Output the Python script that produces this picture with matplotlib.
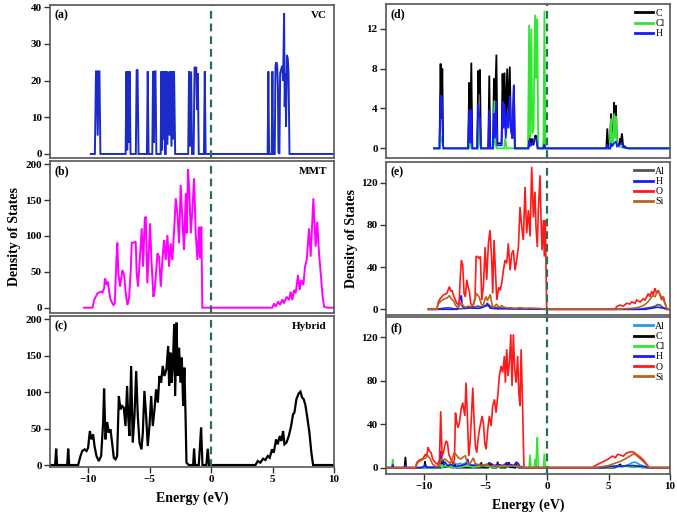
import matplotlib
matplotlib.use('Agg')
import matplotlib.pyplot as plt
import numpy as np

plt.rcParams['font.family'] = ['Liberation Serif', 'DejaVu Serif']
plt.rcParams['font.weight'] = 'bold'

# ---------------- data (energy in eV, DOS) ----------------
vc_dos = [(-9.78, 0), (-9.45, 0), (-9.36, 22.5), (-9.3, 22.5), (-9.22, 5), (-9.14, 22.5), (-9.08, 22.5), (-9.0, 0),
          (-6.95, 0), (-6.88, 22.5), (-6.82, 1), (-6.76, 22.5), (-6.7, 3), (-6.62, 22.5), (-6.55, 0),
          (-6.12, 0), (-6.05, 23), (-5.98, 22.8), (-5.9, 0),
          (-5.22, 0), (-5.15, 22.5), (-5.08, 0),
          (-4.78, 0), (-4.72, 22.5), (-4.65, 3), (-4.58, 22.5), (-4.52, 22.5), (-4.45, 0),
          (-4.1, 0), (-4.04, 22.5), (-3.98, 1), (-3.92, 22.5), (-3.85, 4), (-3.8, 22.5), (-3.74, 0),
          (-3.68, 0), (-3.63, 22.5), (-3.55, 2.5), (-3.47, 22.5), (-3.38, 5), (-3.3, 22.5), (-3.22, 2),
          (-3.14, 22.5), (-3.07, 4), (-3.01, 22.5), (-2.92, 0),
          (-1.86, 0), (-1.79, 22.5), (-1.72, 2), (-1.62, 22.5), (-1.55, 0),
          (-1.42, 0), (-1.34, 23.7), (-1.26, 23.5), (-1.2, 23.5), (-1.14, 12), (-1.08, 22), (-1.0, 0),
          (-0.58, 0), (-0.51, 22.5), (-0.44, 0),
          (4.6, 0), (4.66, 22.5), (4.72, 0), (4.93, 0), (4.99, 22.5), (5.05, 0),
          (5.18, 0), (5.24, 24), (5.32, 25), (5.38, 24), (5.44, 18), (5.48, 0.5), (5.56, 0),
          (5.62, 22), (5.7, 23), (5.78, 24), (5.86, 20), (5.94, 38.3), (5.99, 12.8), (6.04, 22),
          (6.1, 7.4), (6.17, 27), (6.24, 26), (6.3, 22), (6.38, 0), (10, 0)]

mmt_dos = [(-10.33, 0), (-9.65, 0), (-9.51, 10.7), (-9.24, 20), (-8.97, 22.3), (-8.84, 21), (-8.70, 27),
           (-8.62, 41), (-8.48, 31.6), (-8.38, 36.3), (-8.29, 22.3), (-8.16, 10.7), (-7.94, 3.7), (-7.83, 6),
           (-7.70, 66.5), (-7.62, 90.7), (-7.54, 47.9), (-7.40, 29.3), (-7.21, 52.6), (-7.07, 45.6),
           (-6.94, 20), (-6.80, 3.7), (-6.67, 13), (-6.53, 52.6), (-6.45, 90.7), (-6.26, 90.7), (-6.13, 92.1),
           (-6.05, 47.9), (-5.94, 29.3), (-5.80, 66.5), (-5.64, 110.7), (-5.53, 57.2), (-5.39, 124.7),
           (-5.31, 127), (-5.18, 34), (-4.96, 117.7), (-4.85, 66.5), (-4.69, 15.3), (-4.58, 24.7),
           (-4.36, 75.8), (-4.23, 71.2), (-4.09, 29.3), (-3.96, 66.5), (-3.82, 94.4), (-3.69, 66.5),
           (-3.55, 101.4), (-3.42, 57.2), (-3.28, 89.8), (-3.15, 66.5), (-3.01, 106), (-2.87, 152.6),
           (-2.74, 131.6), (-2.60, 89.8), (-2.47, 171.2), (-2.33, 122.3), (-2.20, 80.5), (-2.06, 159.5),
           (-1.98, 103.7), (-1.87, 193), (-1.76, 159.5), (-1.65, 103.7), (-1.52, 136.3), (-1.38, 180.5),
           (-1.25, 103.7), (-1.11, 66.5), (-0.98, 113), (-0.90, 68.8), (-0.79, 113), (-0.71, 0),
           (4.99, 0), (5.12, 6), (5.26, 1.4), (5.45, 8.4), (5.61, 3.7), (5.80, 11.6), (5.93, 6),
           (6.15, 15.3), (6.34, 10.7), (6.48, 22.3), (6.61, 10.7), (6.75, 24.7), (6.88, 20), (7.07, 45.6),
           (7.21, 24.7), (7.34, 38.6), (7.51, 31.6), (7.64, 57.2), (7.78, 66.5), (7.97, 110.7), (8.10, 71.2),
           (8.24, 122.3), (8.32, 152.6), (8.43, 113), (8.51, 85.1), (8.64, 120), (8.78, 75.8), (8.91, 50.2),
           (9.05, 20), (9.19, 1.4), (9.46, 0), (10, 0)]

hybrid_dos = [(-13.3, 0), (-12.68, 0), (-12.60, 22.4), (-12.52, 0), (-11.70, 0), (-11.62, 22.4), (-11.54, 0),
              (-10.81, 0), (-10.62, 12.4), (-10.48, 19.2), (-10.29, 21.5), (-10.13, 19.2), (-10.0, 23.8),
              (-9.86, 46.7), (-9.73, 35.2), (-9.59, 42.1), (-9.48, 26.1), (-9.32, 12.4), (-9.13, 5.5),
              (-8.94, 12.4), (-8.78, 58.1), (-8.70, 104.8), (-8.59, 35.2), (-8.45, 59), (-8.32, 44.4),
              (-8.18, 49), (-8.05, 30.7), (-7.91, 10), (-7.77, 7.8), (-7.64, 12.4), (-7.50, 94.7),
              (-7.37, 76.4), (-7.23, 81), (-7.10, 78.7), (-6.96, 53.5), (-6.83, 108.5), (-6.74, 67.3),
              (-6.64, 39.8), (-6.50, 135.9), (-6.37, 30.7), (-6.23, 67.3), (-6.09, 129), (-5.96, 67.3),
              (-5.82, 30.7), (-5.66, 21.5), (-5.55, 44.4), (-5.42, 101.6), (-5.28, 67.3), (-5.15, 26.1),
              (-5.01, 53.5), (-4.87, 94.7), (-4.74, 53.5), (-4.60, 76.4), (-4.47, 103.9), (-4.33, 85.6),
              (-4.20, 122.2), (-4.06, 113), (-3.93, 135.9), (-3.79, 122.2), (-3.63, 131.4), (-3.49, 163.4),
              (-3.41, 108.5), (-3.30, 154.2), (-3.22, 113), (-3.11, 135.9), (-3.00, 193), (-2.92, 94.7),
              (-2.81, 195.4), (-2.71, 122.2), (-2.60, 161), (-2.49, 113), (-2.38, 147.4), (-2.27, 81),
              (-2.17, 133.6), (-2.08, 71.9), (-2.00, 3.2), (-1.81, 0), (-1.46, 0), (-1.38, 22.4),
              (-1.30, 0), (-1.0, 0), (-0.92, 21.5), (-0.81, 51.3), (-0.70, 0), (-0.38, 0), (-0.27, 22.4),
              (-0.16, 0), (3.61, 0), (3.80, 5.5), (4.01, 3.2), (4.23, 8.7), (4.42, 6.9), (4.61, 12.4),
              (4.77, 10), (4.96, 21.5), (5.10, 16.9), (5.29, 35.2), (5.42, 28.4), (5.59, 39.8), (5.72, 32.9),
              (5.86, 46.7), (5.97, 28.4), (6.13, 30.7), (6.32, 39.8), (6.51, 53.5), (6.67, 69.6), (6.78, 71.9),
              (6.94, 90.2), (7.13, 98.4), (7.27, 100.7), (7.40, 92.9), (7.54, 90.2), (7.67, 82.4),
              (7.81, 67.3), (8.00, 44.4), (8.16, 16.9), (8.30, 0), (10, 0)]

d_C = [(-9.2, 0), (-8.75, 0), (-8.66, 8.5), (-8.6, 3), (-8.52, 8.0), (-8.45, 0),
       (-6.42, 0), (-6.33, 6.6), (-6.26, 1), (-6.16, 8.6), (-6.08, 0),
       (-5.68, 0), (-5.6, 7.8), (-5.53, 5.5), (-5.46, 7.9), (-5.38, 0),
       (-4.78, 0), (-4.7, 7.3), (-4.62, 0),
       (-4.4, 0), (-4.32, 7.0), (-4.24, 4), (-4.12, 9.4), (-4.04, 0.5),
       (-3.7, 0.5), (-3.62, 7.5), (-3.55, 4), (-3.46, 7.6), (-3.36, 2), (-3.24, 8.0), (-3.14, 3),
       (-3.03, 8.2), (-2.94, 2), (-2.82, 1), (-2.7, 6.3), (-2.62, 0),
       (-1.52, 0), (-1.44, 1.3), (-1.36, 0.3), (-1.24, 1.0), (-1.12, 0.3), (-0.96, 1.3), (-0.86, 1.2), (-0.76, 0),
       (-0.3, 0), (-0.22, 2.0), (-0.15, 0),
       (4.82, 0), (4.9, 2.0), (4.98, 0), (5.12, 0), (5.2, 3.5), (5.28, 0.5), (5.38, 1), (5.45, 4.6),
       (5.52, 2), (5.6, 4.3), (5.68, 0.5), (5.85, 0.2), (5.93, 1.0), (6.0, 0.5), (6.09, 1.5), (6.18, 0.3),
       (6.4, 0.1), (6.6, 0), (10, 0)]
d_Cl = [(-9.2, 0), (-8.75, 0), (-8.64, 1.2), (-8.5, 0.5), (-8.45, 0),
        (-6.3, 0), (-6.2, 0.8), (-6.1, 0),
        (-5.6, 0), (-5.52, 2.5), (-5.45, 0.5), (-5.38, 0),
        (-4.36, 0), (-4.28, 4.8), (-4.2, 0.5), (-4.1, 0),
        (-3.5, 0), (-3.4, 1.0), (-3.3, 0),
        (-1.55, 0), (-1.46, 12.4), (-1.38, 1.0), (-1.28, 12.0), (-1.2, 1.5), (-1.1, 2), (-0.98, 13.4),
        (-0.9, 7), (-0.8, 13.0), (-0.72, 0),
        (-0.3, 0), (-0.21, 13.8), (-0.14, 0),
        (5.1, 0), (5.2, 3.0), (5.28, 0.3), (5.38, 1), (5.47, 3.5), (5.55, 1), (5.62, 3.2), (5.7, 0.2),
        (6.6, 0), (10, 0)]
d_H = [(-9.2, 0), (-8.75, 0), (-8.66, 5.3), (-8.56, 5.2), (-8.47, 0.3), (-8.4, 0),
       (-6.42, 0), (-6.33, 3.9), (-6.24, 0.5), (-6.16, 3.9), (-6.08, 0),
       (-5.68, 0), (-5.6, 4.4), (-5.53, 3.5), (-5.46, 3.0), (-5.38, 0),
       (-4.78, 0), (-4.7, 3.9), (-4.62, 0),
       (-4.4, 0), (-4.32, 3.5), (-4.24, 1), (-4.14, 4.7), (-4.04, 0.3),
       (-3.7, 0.3), (-3.62, 4.7), (-3.55, 2), (-3.46, 4.5), (-3.36, 1), (-3.24, 3.6), (-3.14, 2),
       (-3.03, 5.3), (-2.94, 2), (-2.82, 1), (-2.7, 6.4), (-2.62, 0),
       (-1.52, 0), (-1.44, 0.8), (-1.36, 0.2), (-1.2, 0.5), (-0.98, 1.0), (-0.9, 1.0), (-0.76, 0),
       (-0.3, 0), (-0.22, 0.4), (-0.15, 0),
       (4.82, 0), (4.9, 0.4), (4.98, 0), (5.15, 0), (5.2, 0.5), (5.3, 0.2), (5.45, 0.5), (5.6, 0.7),
       (5.7, 0.2), (6.09, 0.5), (6.2, 0.1), (6.6, 0), (10, 0)]

e_Al = [(-9.65, 0), (-8.9, 0), (-8.5, 1), (-8.0, 1.5), (-7.5, 0.5), (-7.0, 0.5), (-6.5, 1), (-6.0, 2),
        (-5.6, 3), (-5.3, 2), (-5.0, 3), (-4.7, 4), (-4.5, 2), (-4.0, 1.5), (-3.5, 1), (-3.0, 0.5),
        (-2.0, 0.5), (-0.05, 0), (7.5, 0), (8.0, 1), (8.5, 2), (8.8, 3), (9.0, 4.5), (9.2, 4),
        (9.4, 2), (9.7, 0), (10, 0)]
e_H = [(-9.65, 0), (-7.3, 0), (-7.15, 5), (-7.05, 12), (-6.97, 13), (-6.9, 3), (-6.7, 1), (-6.3, 1.5),
       (-6.0, 1), (-5.5, 1), (-5.2, 2), (-4.95, 4), (-4.85, 6), (-4.75, 3), (-4.6, 1), (-4.0, 0.5),
       (-3.0, 0.5), (-1.0, 0.3), (-0.05, 0), (8.0, 0), (8.5, 1), (9.0, 2), (9.5, 1), (9.8, 0), (10, 0)]
e_O = [(-9.65, 0), (-8.97, 0), (-8.84, 7), (-8.70, 10), (-8.43, 13.6), (-8.16, 15), (-7.94, 21.5),
       (-7.83, 17), (-7.73, 18), (-7.62, 13.6), (-7.35, 5.7), (-7.16, 4), (-7.07, 28), (-6.97, 46.7),
       (-6.86, 42), (-6.75, 15), (-6.64, 12), (-6.53, 28), (-6.42, 21), (-6.32, 17), (-6.21, 5.7),
       (-6.05, 2.5), (-5.86, 10.5), (-5.77, 50), (-5.64, 50), (-5.53, 48), (-5.42, 50), (-5.31, 8.8),
       (-5.18, 21), (-5.04, 59), (-4.91, 28), (-4.77, 62.5), (-4.64, 75), (-4.50, 46.7), (-4.42, 15),
       (-4.31, 65.7), (-4.20, 37), (-4.09, 8.8), (-3.93, 21), (-3.82, 18), (-3.69, 24.5), (-3.55, 37),
       (-3.42, 46.7), (-3.28, 43.5), (-3.15, 62.5), (-3.01, 37), (-2.87, 53), (-2.74, 56), (-2.60, 37),
       (-2.47, 46.7), (-2.33, 59), (-2.20, 97), (-2.06, 78), (-1.93, 65.7), (-1.79, 116), (-1.66, 72),
       (-1.52, 94), (-1.38, 69), (-1.25, 135), (-1.11, 87), (-0.98, 111.5), (-0.90, 78), (-0.79, 59),
       (-0.71, 94), (-0.57, 127), (-0.49, 84.6), (-0.41, 56), (-0.30, 84.6), (-0.22, 50), (-0.14, 84.6),
       (-0.08, 40), (-0.03, 0),
       (5.53, 0), (5.66, 2.5), (5.93, 4), (6.20, 3), (6.47, 5.7), (6.75, 5), (6.88, 7), (7.15, 5.7),
       (7.29, 8.8), (7.56, 7), (7.83, 10), (7.97, 8.8), (8.24, 15), (8.37, 12), (8.51, 17), (8.64, 13.6),
       (8.78, 20), (8.91, 15), (9.05, 18), (9.19, 13.6), (9.32, 8.8), (9.46, 12), (9.59, 5.7), (9.73, 1),
       (9.8, 0), (10, 0)]
e_Si = [(-9.65, 0), (-8.97, 0), (-8.85, 5), (-8.7, 7), (-8.5, 9), (-8.3, 10), (-8.1, 11), (-7.94, 13),
        (-7.8, 10), (-7.6, 8), (-7.45, 4), (-7.3, 2), (-7.15, 3), (-7.0, 6), (-6.9, 5), (-6.8, 3),
        (-6.6, 2), (-6.4, 3), (-6.2, 2.5), (-6.0, 4), (-5.85, 10), (-5.75, 15), (-5.6, 13), (-5.5, 11),
        (-5.35, 5), (-5.2, 3), (-5.05, 10), (-4.95, 12), (-4.85, 8), (-4.7, 12), (-4.62, 14), (-4.5, 6),
        (-4.4, 2), (-4.3, 2.5), (-4.1, 5), (-4.0, 3), (-3.85, 2), (-3.7, 3.5), (-3.5, 2), (-3.3, 1.5),
        (-3.0, 1.5), (-2.6, 1), (-2.2, 1.5), (-1.8, 1), (-1.4, 1.2), (-1.0, 1), (-0.6, 0.8), (-0.2, 0.4),
        (0, 0), (5.7, 0), (6.3, 0.5), (7.0, 1), (7.5, 2), (7.9, 4), (8.2, 7), (8.4, 10), (8.6, 13),
        (8.78, 12), (8.9, 15), (9.05, 18), (9.2, 13), (9.35, 12), (9.5, 8), (9.65, 4), (9.75, 0), (10, 0)]

f_Al = [(-13.1, 0), (-8.5, 0), (-8.2, 1), (-7.8, 2), (-7.55, 4.5), (-7.3, 3), (-7.1, 4), (-6.9, 3),
        (-6.6, 4.5), (-6.3, 2), (-6.0, 2.5), (-5.6, 1.5), (-5.0, 1), (-4.0, 0.5), (-2.0, 0.3), (-1.88, 0),
        (5.0, 0), (5.5, 0.5), (6.0, 1), (6.5, 2), (6.9, 4.5), (7.1, 5.2), (7.3, 4.5), (7.6, 2.5),
        (8.0, 1), (8.3, 0), (10, 0)]
f_C = [(-13.1, 0), (-11.6, 0), (-11.52, 10), (-11.45, 0), (-10.0, 0), (-9.93, 6), (-9.86, 0),
       (-8.7, 0), (-8.62, 8), (-8.55, 3), (-8.45, 7), (-8.35, 1), (-7.6, 0), (-7.5, 3), (-7.4, 0),
       (-5.42, 0), (-5.35, 5), (-5.28, 0), (-4.78, 0), (-4.7, 5), (-4.62, 0.5), (-4.55, 4), (-4.48, 0),
       (-4.1, 0), (-4.02, 5.5), (-3.95, 0.5), (-3.88, 3), (-3.8, 0), (-3.38, 0), (-3.3, 5), (-3.22, 1),
       (-3.1, 5), (-3.02, 0.5), (-2.58, 0), (-2.5, 4), (-2.42, 1), (-2.3, 0), (-0.3, 0), (-0.22, 2),
       (-0.15, 0), (5.5, 0), (5.8, 2), (5.95, 3), (6.1, 1), (6.5, 2), (6.8, 1), (7.5, 0.5), (8.3, 0), (10, 0)]
f_Cl = [(-13.1, 0), (-12.62, 0), (-12.55, 8), (-12.48, 0), (-8.75, 0), (-8.62, 3), (-8.5, 1), (-8.3, 2),
        (-8.1, 0.5), (-7.0, 0.5), (-6.5, 1.5), (-6.0, 0.5), (-5.0, 1.5), (-4.5, 0.5), (-3.5, 1), (-2.8, 2),
        (-2.4, 1), (-1.95, 0), (-1.46, 0), (-1.38, 12), (-1.3, 0), (-1.05, 0), (-0.98, 8), (-0.9, 1),
        (-0.84, 20), (-0.79, 28), (-0.72, 0), (-0.3, 0), (-0.22, 13), (-0.15, 0), (5.0, 0), (5.5, 1),
        (6.0, 1.5), (6.5, 1), (7.0, 0.8), (8.0, 0), (10, 0)]
f_H = [(-13.1, 0), (-12.62, 0), (-12.55, 3), (-12.48, 0), (-11.6, 0), (-11.52, 3), (-11.45, 0),
       (-10.3, 0), (-10.0, 1), (-9.9, 3), (-9.8, 0.5), (-8.8, 0.5), (-8.68, 8), (-8.62, 15), (-8.55, 6),
       (-8.45, 4), (-8.3, 5), (-8.1, 2), (-7.8, 3), (-7.5, 1), (-7.0, 2), (-6.6, 3), (-6.45, 8), (-6.35, 3),
       (-6.0, 2), (-5.5, 3), (-5.3, 1.5), (-4.9, 3), (-4.6, 4), (-4.3, 2), (-4.0, 3), (-3.6, 2), (-3.3, 4),
       (-3.0, 3), (-2.7, 2), (-2.5, 5), (-2.35, 4), (-2.2, 1), (-1.88, 0), (-0.8, 0), (-0.75, 1), (-0.7, 0),
       (4.5, 0), (5.0, 1), (5.5, 1.5), (6.0, 1.5), (6.5, 1.8), (7.0, 2), (7.5, 1.5), (8.0, 0.8), (8.3, 0), (10, 0)]
f_O = [(-13.1, 0), (-10.71, 0), (-10.60, 4.6), (-10.38, 7.1), (-10.11, 8.3), (-9.89, 12.3), (-9.78, 10.7),
       (-9.68, 19), (-9.57, 15.3), (-9.43, 13.8), (-9.30, 7.7), (-9.08, 4.6), (-8.89, 3.1), (-8.75, 7.7),
       (-8.65, 52), (-8.54, 10.7), (-8.43, 13.8), (-8.32, 20), (-8.21, 24.6), (-8.10, 23), (-7.99, 12.3),
       (-7.81, 7.7), (-7.67, 3.1), (-7.53, 7.7), (-7.45, 50.6), (-7.34, 41.4), (-7.24, 36.8), (-7.13, 41.4),
       (-6.99, 53.7), (-6.86, 59.9), (-6.69, 47.6), (-6.59, 78.3), (-6.48, 47.6), (-6.37, 10.7),
       (-6.26, 23), (-6.15, 47.6), (-6.04, 73.7), (-5.94, 44.5), (-5.83, 20), (-5.72, 13.8), (-5.61, 26.1),
       (-5.50, 35.3), (-5.39, 41.4), (-5.29, 47.6), (-5.18, 41.4), (-5.07, 23), (-4.96, 16.9),
       (-4.82, 35.3), (-4.69, 47.6), (-4.55, 38.4), (-4.42, 56.8), (-4.28, 62.9), (-4.15, 50.6),
       (-4.01, 66), (-3.88, 84.4), (-3.74, 93.6), (-3.61, 87.5), (-3.47, 102.8), (-3.39, 78.3),
       (-3.28, 109), (-3.17, 84.4), (-3.06, 96.7), (-2.95, 122.8), (-2.85, 75.2), (-2.74, 122.8),
       (-2.63, 90.5), (-2.52, 78.3), (-2.39, 102.8), (-2.30, 69), (-2.20, 56.8), (-2.11, 109), (-2.01, 66),
       (-1.88, 0), (3.71, 0), (3.85, 1.5), (4.12, 3.1), (4.39, 4.6), (4.66, 6.1), (4.93, 7.7), (5.12, 9.2),
       (5.34, 10.7), (5.55, 9.2), (5.74, 12.3), (6.02, 11.4), (6.21, 10.7), (6.42, 13.2), (6.69, 14.4),
       (6.91, 14.7), (7.10, 13.8), (7.37, 11.4), (7.64, 9.2), (7.91, 6.1), (8.18, 2.1), (8.32, 0), (10, 0)]
f_Si = [(-13.1, 0), (-10.71, 0), (-10.5, 5), (-10.2, 7), (-9.9, 9), (-9.7, 11), (-9.5, 8), (-9.3, 3),
        (-9.0, 1), (-8.75, 2), (-8.6, 8), (-8.45, 7), (-8.3, 8), (-8.1, 6), (-7.9, 4), (-7.7, 8),
        (-7.55, 14), (-7.4, 12), (-7.2, 9), (-7.0, 8), (-6.8, 10), (-6.65, 11), (-6.5, 5), (-6.3, 3),
        (-6.15, 6), (-6.0, 9), (-5.85, 4), (-5.6, 2.5), (-5.3, 2), (-5.0, 3), (-4.6, 1.5), (-4.0, 1.5),
        (-3.5, 2), (-3.0, 1.5), (-2.5, 1.5), (-2.0, 1), (-1.88, 0), (3.8, 0), (4.5, 1), (5.0, 2),
        (5.5, 4), (6.0, 6), (6.5, 9), (6.8, 11), (7.0, 12.5), (7.2, 12), (7.5, 9), (7.8, 6), (8.1, 2.5),
        (8.3, 0), (10, 0)]

left_yticks = [[0, 10, 20, 30, 40], [0, 50, 100, 150, 200], [0, 50, 100, 150, 200]]
right_yticks = [[0, 4, 8, 12], [0, 40, 80, 120], [0, 40, 80, 120]]
xticks = [-10, -5, 0, 5, 10]

# ---------------- figure ----------------
fig = plt.figure(figsize=(6.77, 5.12), dpi=100)
W, H = 677, 512


def add_ax(l, t, r, b):
    return fig.add_axes([l / W, 1 - b / H, (r - l) / W, (b - t) / H])


axa = add_ax(50, 5, 334, 158)
axb = add_ax(50, 161, 334, 313)
axc = add_ax(50, 316, 334, 467)
axd = add_ax(386, 4, 670, 158)
axe = add_ax(386, 162, 670, 315)
axf = add_ax(386, 317, 670, 474)

ylims = {axa: (-1.1, 40.6), axb: (-7.4, 204.6), axc: (-2.7, 204.5),
         axd: (-0.97, 14.48), axe: (-5.4, 139.6), axf: (-5.8, 138.7)}
yt = {axa: left_yticks[0], axb: left_yticks[1], axc: left_yticks[2],
      axd: right_yticks[0], axe: right_yticks[1], axf: right_yticks[2]}


def plot_series(ax, data, color, lw, label=None):
    arr = np.array(data, dtype=float)
    ax.plot(arr[:, 0], arr[:, 1], color=color, lw=lw, label=label, solid_joinstyle='miter')


plot_series(axa, vc_dos, '#1a2bc8', 1.4)
plot_series(axb, mmt_dos, '#ff00ff', 1.4)
plot_series(axc, hybrid_dos, '#000000', 1.6)

plot_series(axd, d_C, '#000000', 1.3, 'C')
plot_series(axd, d_Cl, '#33e633', 1.3, 'Cl')
plot_series(axd, d_H, '#1a1aff', 1.3, 'H')

plot_series(axe, e_Al, '#555555', 1.2, 'Al')
plot_series(axe, e_H, '#1a1aff', 1.2, 'H')
plot_series(axe, e_O, '#ff1a1a', 1.2, 'O')
plot_series(axe, e_Si, '#b8641e', 1.2, 'Si')

plot_series(axf, f_Al, '#1e9cf0', 1.2, 'Al')
plot_series(axf, f_C, '#000000', 1.2, 'C')
plot_series(axf, f_Cl, '#33e633', 1.2, 'Cl')
plot_series(axf, f_H, '#1a1aff', 1.2, 'H')
plot_series(axf, f_O, '#ff1a1a', 1.2, 'O')
plot_series(axf, f_Si, '#c0601a', 1.2, 'Si')

for ax in [axa, axb, axc, axd, axe, axf]:
    ax.set_xlim(-13.1, 10)
    ax.set_ylim(*ylims[ax])
    ax.set_yticks(yt[ax])
    ax.axvline(0, color='#2a6e55', lw=1.6, ls=(0, (3.5, 2.2)), zorder=3)
    for s in ax.spines.values():
        s.set_color('#555555')
        s.set_linewidth(1.2)
    ax.tick_params(axis='y', direction='out', length=4, width=1.0, labelsize=8, pad=2,
                   colors='#333333', labelcolor='black')
    ax.tick_params(axis='x', direction='out', length=4, width=1.0, labelsize=8, pad=2,
                   colors='#333333', labelcolor='black')
    for lab in ax.get_yticklabels() + ax.get_xticklabels():
        lab.set_fontweight('bold')

for ax in [axa, axb, axd, axe]:
    ax.tick_params(axis='x', bottom=False, labelbottom=False)

for ax in [axc, axf]:
    ax.set_xticks(xticks)
    ax.set_xticklabels(['\u221210', '\u22125', '0', '5', '10'])
    for lab in ax.get_xticklabels():
        lab.set_fontweight('bold')
    ax.set_xlabel('Energy (eV)', fontsize=10, fontweight='bold', labelpad=5)

axb.set_ylabel('Density of States', fontsize=10, fontweight='bold', labelpad=3)
axe.set_ylabel('Density of States', fontsize=10, fontweight='bold', labelpad=2)

for ax, lab in [(axa, '(a)'), (axb, '(b)'), (axc, '(c)'), (axd, '(d)'), (axe, '(e)'), (axf, '(f)')]:
    ax.text(0.015, 0.93, lab, transform=ax.transAxes, fontsize=8.5, fontweight='bold', va='center', ha='left')

for ax, lab in [(axa, 'VC'), (axb, 'MMT'), (axc, 'Hybrid')]:
    ax.text(0.975, 0.93, lab, transform=ax.transAxes, fontsize=8, fontweight='bold', va='center', ha='right')

for ax in [axd, axe, axf]:
    leg = ax.legend(loc='upper right', frameon=False, fontsize=7, handlelength=1.9,
                    handletextpad=0.25, labelspacing=0.12, borderaxespad=0.3, borderpad=0.2)
    for line in leg.get_lines():
        line.set_linewidth(2.0)
    for t in leg.get_texts():
        t.set_fontweight('normal')

fig.savefig('out.png', dpi=100)
